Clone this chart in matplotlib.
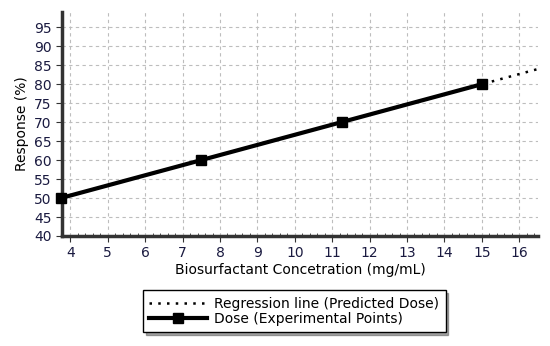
import matplotlib.pyplot as plt
from matplotlib.ticker import MultipleLocator
import numpy as np

# experimental points
conc = [3.75, 7.5, 11.25, 15.0]
response = [50, 60, 70, 80]

# regression line (predicted dose) endpoints
reg_x = [3.75, 16.5]
reg_y = [50, 84]


def main():
    fig = plt.figure(figsize=(5.5, 3.46), dpi=100)
    ax = fig.add_axes([0.113, 0.318, 0.865, 0.647])

    ax.plot(reg_x, reg_y, linestyle=(0, (1, 2.5)), color='black', linewidth=1.8,
            label='Regression line (Predicted Dose)', zorder=3)
    ax.plot(conc, response, '-s', color='black', linewidth=3, markersize=6.5,
            label='Dose (Experimental Points)', zorder=4, clip_on=False)

    ax.set_xlim(3.78, 16.5)
    ax.set_ylim(40, 99)
    ax.xaxis.set_major_locator(MultipleLocator(1))
    ax.xaxis.set_minor_locator(MultipleLocator(0.2))
    ax.yaxis.set_major_locator(MultipleLocator(5))

    ax.grid(True, which='major', linestyle=(0, (3, 3)), color='#bdbdbd', linewidth=0.8)

    for side in ['top', 'right']:
        ax.spines[side].set_visible(False)
    ax.spines['left'].set_linewidth(2.5)
    ax.spines['bottom'].set_linewidth(2.5)
    ax.spines['left'].set_color('#333333')
    ax.spines['bottom'].set_color('#333333')

    ax.tick_params(which='major', length=4, labelsize=10, colors='#333333',
                   labelcolor='#1a1a40')
    ax.tick_params(which='minor', length=2, direction='in', colors='#333333')

    ax.set_xlabel('Biosurfactant Concetration (mg/mL)', fontsize=10, labelpad=2)
    ax.set_ylabel('Response (%)', fontsize=10)

    leg = fig.legend(loc='center', bbox_to_anchor=(0.535, 0.10), fontsize=10,
                     frameon=True, fancybox=False, shadow=True, handlelength=4.2,
                     borderpad=0.45, labelspacing=0.1, handletextpad=0.5,
                     edgecolor='black', borderaxespad=0)
    leg.get_frame().set_linewidth(1)

    fig.savefig('out.png', dpi=100)


if __name__ == "__main__":
    main()
